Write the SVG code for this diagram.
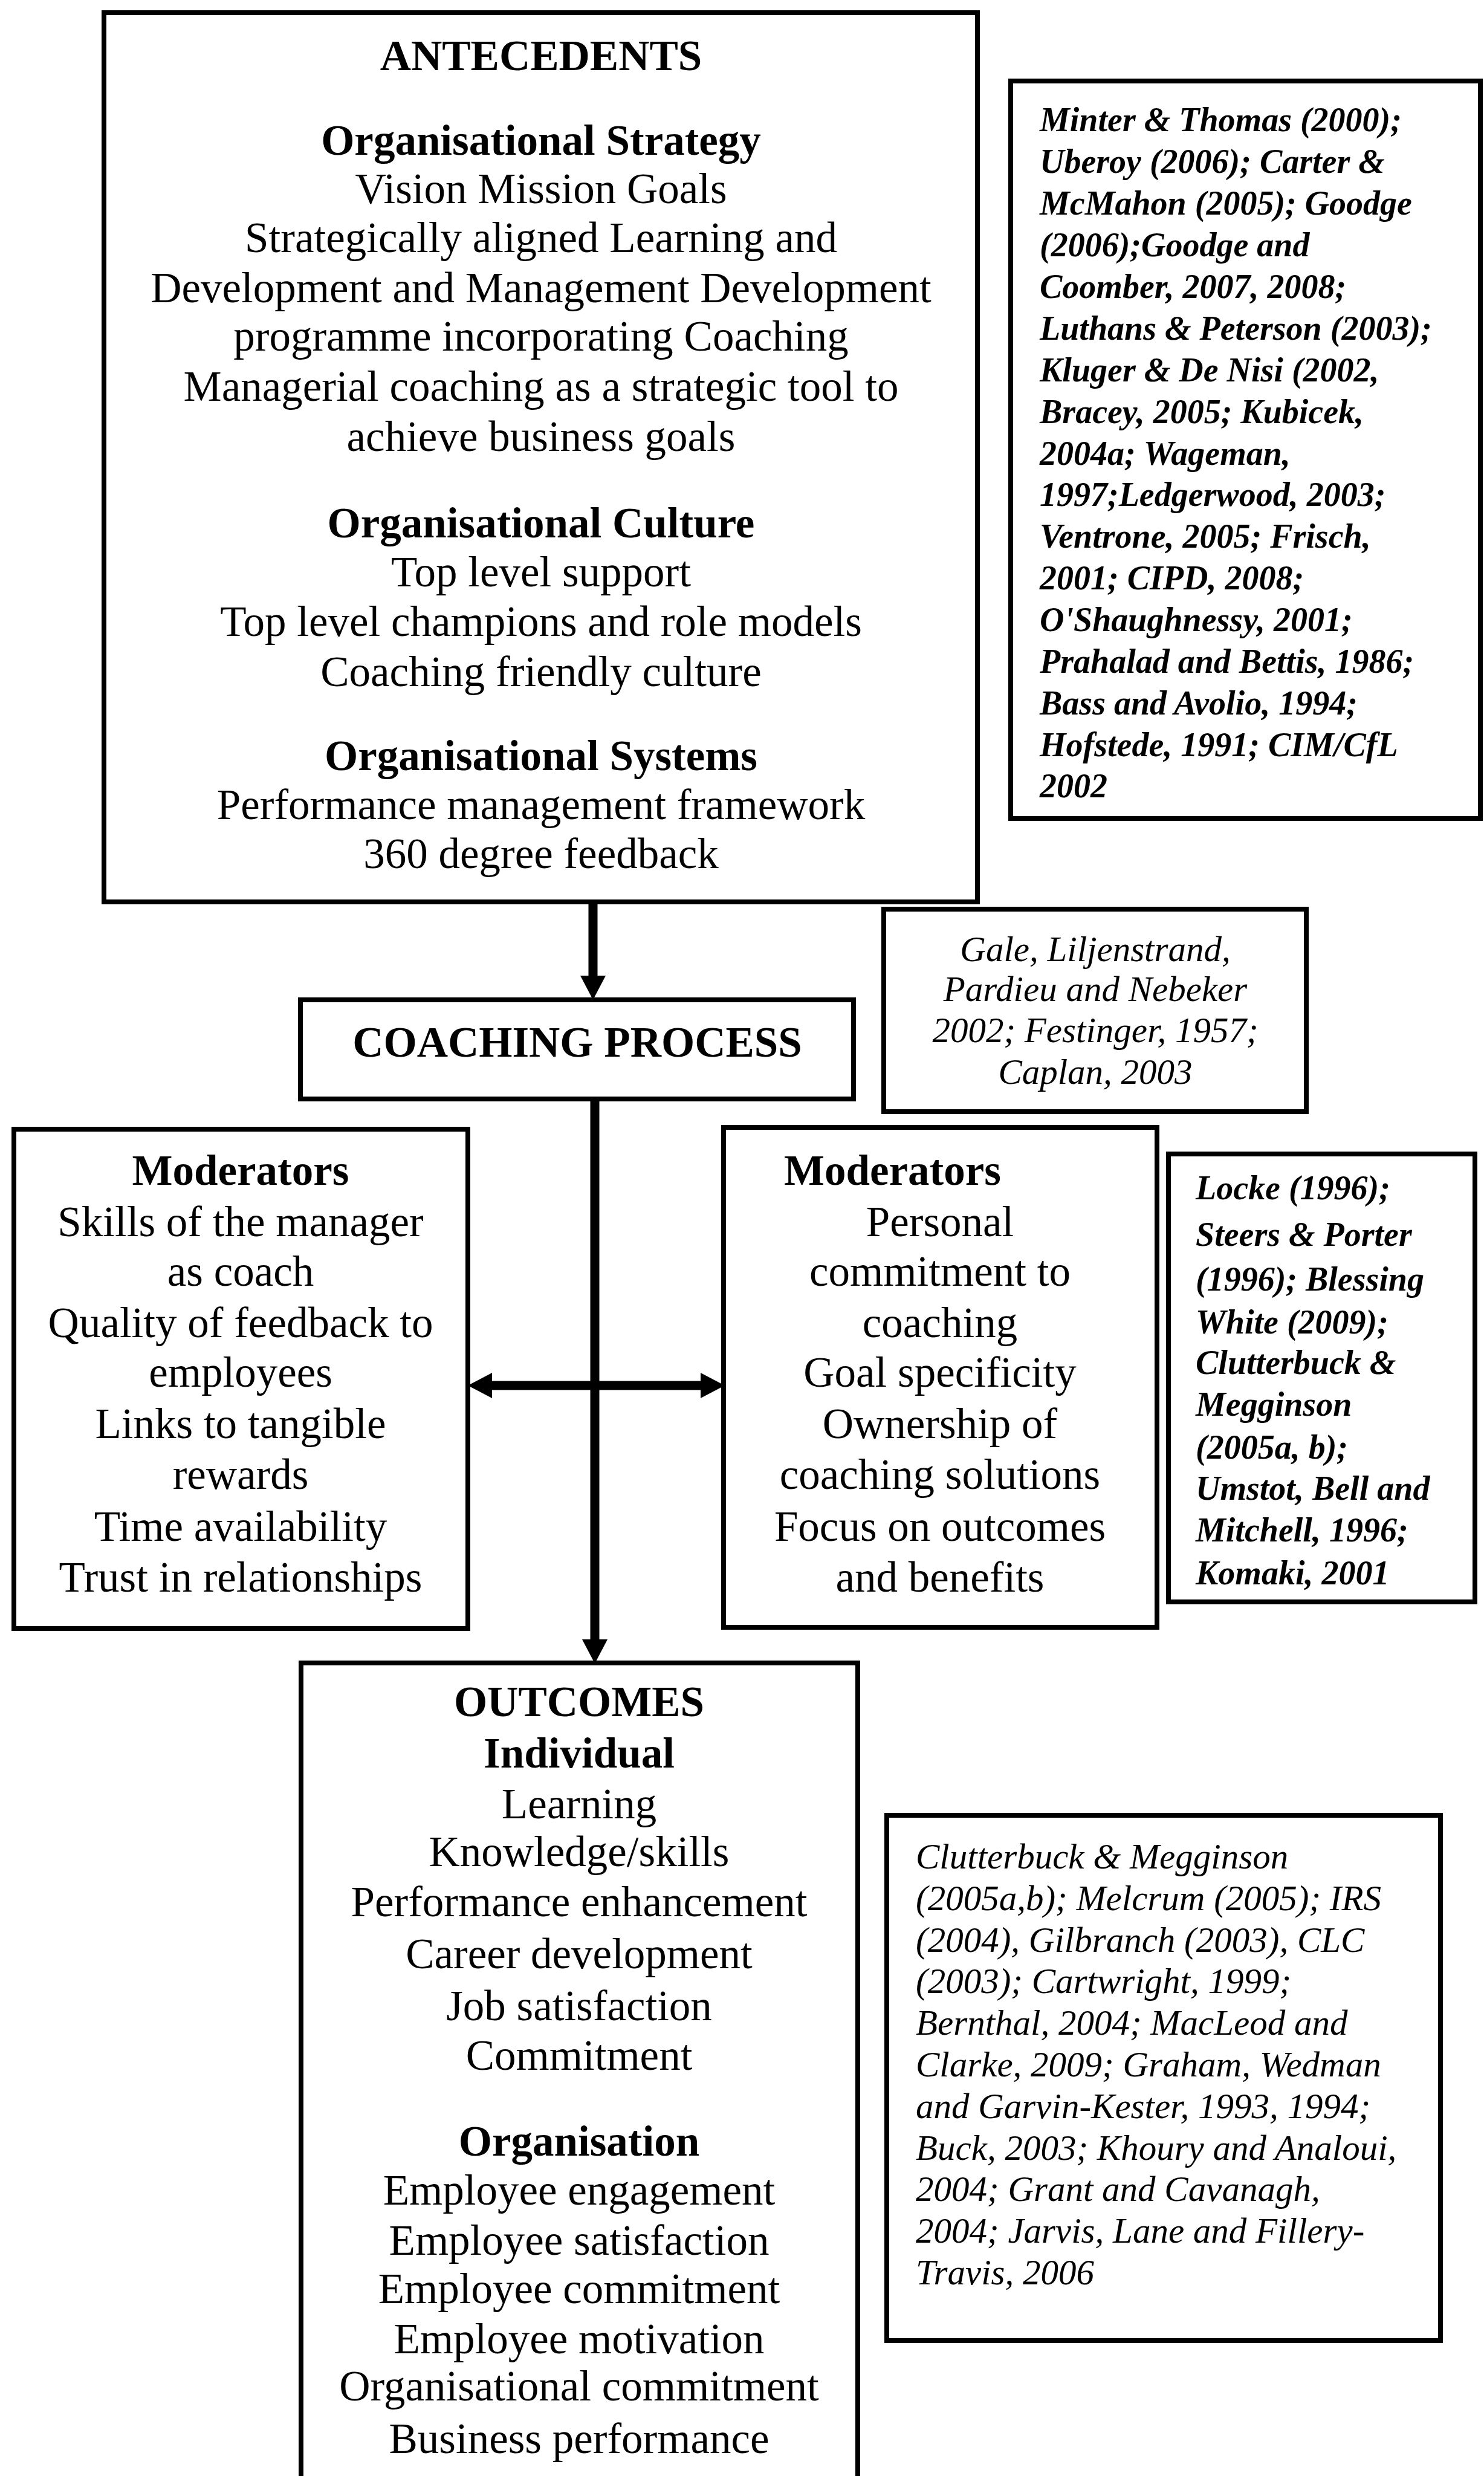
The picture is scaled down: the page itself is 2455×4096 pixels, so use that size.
<svg xmlns="http://www.w3.org/2000/svg" width="2455" height="4096" viewBox="0 0 2455 4096">
<style>
.box{fill:none;stroke:#000;stroke-width:8}
.con{fill:none;stroke:#000;stroke-width:15}
.t{font-family:"Liberation Serif","Times New Roman",serif;font-size:71px;fill:#000}
.c{text-anchor:middle}
.b{font-weight:bold}
.ci{font-family:"Liberation Serif","Times New Roman",serif;font-style:italic;font-size:59px;fill:#000}
.cb{font-family:"Liberation Serif","Times New Roman",serif;font-style:italic;font-weight:bold;font-size:56px;fill:#000}
</style>
<defs>
<marker id="ah" markerUnits="userSpaceOnUse" markerWidth="40" markerHeight="42" viewBox="0 0 40 42" refX="0" refY="21" orient="auto-start-reverse">
<path d="M0,0 L40,21 L0,42 z" fill="#000"/>
</marker>
</defs>
<rect width="2455" height="4096" fill="#fff"/>

<g id="connectors">
<line class="con" x1="981" y1="1492" x2="981" y2="1614" marker-end="url(#ah)"/>
<line class="con" x1="984" y1="1818" x2="984" y2="2712" marker-end="url(#ah)"/>
<line class="con" x1="814" y1="2292" x2="1159" y2="2292" marker-start="url(#ah)" marker-end="url(#ah)"/>
</g>

<g id="antecedents">
<rect class="box" x="172" y="21" width="1445" height="1471"/>
<text class="t c b" x="895" y="116">ANTECEDENTS</text>
<text class="t c b" x="895" y="256">Organisational Strategy</text>
<text class="t c" x="895" y="336">Vision Mission Goals</text>
<text class="t c" x="895" y="417">Strategically aligned Learning and</text>
<text class="t c" x="895" y="500">Development and Management Development</text>
<text class="t c" x="895" y="580">programme incorporating Coaching</text>
<text class="t c" x="895" y="663">Managerial coaching as a strategic tool to</text>
<text class="t c" x="895" y="746">achieve business goals</text>
<text class="t c b" x="895" y="889">Organisational Culture</text>
<text class="t c" x="895" y="970">Top level support</text>
<text class="t c" x="895" y="1052">Top level champions and role models</text>
<text class="t c" x="895" y="1135">Coaching friendly culture</text>
<text class="t c b" x="895" y="1274">Organisational Systems</text>
<text class="t c" x="895" y="1355">Performance management framework</text>
<text class="t c" x="895" y="1436">360 degree feedback</text>
</g>

<g id="ref-antecedents">
<rect class="box" x="1672" y="134" width="777" height="1220"/>
<text class="cb" x="1720" y="217">Minter &amp; Thomas (2000);</text>
<text class="cb" x="1720" y="286">Uberoy (2006); Carter &amp;</text>
<text class="cb" x="1720" y="355">McMahon (2005); Goodge</text>
<text class="cb" x="1720" y="424">(2006);Goodge and</text>
<text class="cb" x="1720" y="493">Coomber, 2007, 2008;</text>
<text class="cb" x="1720" y="562">Luthans &amp; Peterson (2003);</text>
<text class="cb" x="1720" y="631">Kluger &amp; De Nisi (2002,</text>
<text class="cb" x="1720" y="700">Bracey, 2005; Kubicek,</text>
<text class="cb" x="1720" y="769">2004a; Wageman,</text>
<text class="cb" x="1720" y="837">1997;Ledgerwood, 2003;</text>
<text class="cb" x="1720" y="906">Ventrone, 2005; Frisch,</text>
<text class="cb" x="1720" y="975">2001; CIPD, 2008;</text>
<text class="cb" x="1720" y="1044">O'Shaughnessy, 2001;</text>
<text class="cb" x="1720" y="1113">Prahalad and Bettis, 1986;</text>
<text class="cb" x="1720" y="1182">Bass and Avolio, 1994;</text>
<text class="cb" x="1720" y="1251">Hofstede, 1991; CIM/CfL</text>
<text class="cb" x="1720" y="1319">2002</text>
</g>

<g id="coaching-process">
<rect class="box" x="497" y="1654" width="915" height="164"/>
<text class="t c b" x="955" y="1748">COACHING PROCESS</text>
</g>

<g id="ref-coaching">
<rect class="box" x="1462" y="1504" width="699" height="335"/>
<text class="ci c" x="1812" y="1590">Gale, Liljenstrand,</text>
<text class="ci c" x="1812" y="1656">Pardieu and Nebeker</text>
<text class="ci c" x="1812" y="1724">2002; Festinger, 1957;</text>
<text class="ci c" x="1812" y="1793">Caplan, 2003</text>
</g>

<g id="moderators-left">
<rect class="box" x="23" y="1868" width="751" height="826"/>
<text class="t c b" x="398" y="1960">Moderators</text>
<text class="t c" x="398" y="2045">Skills of the manager</text>
<text class="t c" x="398" y="2127">as coach</text>
<text class="t c" x="398" y="2212">Quality of feedback to</text>
<text class="t c" x="398" y="2294">employees</text>
<text class="t c" x="398" y="2379">Links to tangible</text>
<text class="t c" x="398" y="2463">rewards</text>
<text class="t c" x="398" y="2549">Time availability</text>
<text class="t c" x="398" y="2633">Trust in relationships</text>
</g>

<g id="moderators-right">
<rect class="box" x="1197" y="1865" width="717" height="827"/>
<text class="t b" x="1297" y="1960">Moderators</text>
<text class="t c" x="1555" y="2045">Personal</text>
<text class="t c" x="1555" y="2127">commitment to</text>
<text class="t c" x="1555" y="2212">coaching</text>
<text class="t c" x="1555" y="2294">Goal specificity</text>
<text class="t c" x="1555" y="2379">Ownership of</text>
<text class="t c" x="1555" y="2463">coaching solutions</text>
<text class="t c" x="1555" y="2549">Focus on outcomes</text>
<text class="t c" x="1555" y="2633">and benefits</text>
</g>

<g id="ref-moderators">
<rect class="box" x="1933" y="1909" width="507" height="741"/>
<text class="cb" x="1978" y="1984">Locke (1996);</text>
<text class="cb" x="1978" y="2061">Steers &amp; Porter</text>
<text class="cb" x="1978" y="2135">(1996); Blessing</text>
<text class="cb" x="1978" y="2206">White (2009);</text>
<text class="cb" x="1978" y="2273">Clutterbuck &amp;</text>
<text class="cb" x="1978" y="2342">Megginson</text>
<text class="cb" x="1978" y="2413">(2005a, b);</text>
<text class="cb" x="1978" y="2481">Umstot, Bell and</text>
<text class="cb" x="1978" y="2550">Mitchell, 1996;</text>
<text class="cb" x="1978" y="2621">Komaki, 2001</text>
</g>

<g id="outcomes">
<path class="box" d="M498,4120 V2751 H1419 V4120"/>
<text class="t c b" x="958" y="2839">OUTCOMES</text>
<text class="t c b" x="958" y="2924">Individual</text>
<text class="t c" x="958" y="3008">Learning</text>
<text class="t c" x="958" y="3087">Knowledge/skills</text>
<text class="t c" x="958" y="3170">Performance enhancement</text>
<text class="t c" x="958" y="3256">Career development</text>
<text class="t c" x="958" y="3342">Job satisfaction</text>
<text class="t c" x="958" y="3424">Commitment</text>
<text class="t c b" x="958" y="3566">Organisation</text>
<text class="t c" x="958" y="3647">Employee engagement</text>
<text class="t c" x="958" y="3730">Employee satisfaction</text>
<text class="t c" x="958" y="3810">Employee commitment</text>
<text class="t c" x="958" y="3893">Employee motivation</text>
<text class="t c" x="958" y="3971">Organisational commitment</text>
<text class="t c" x="958" y="4058">Business performance</text>
</g>

<g id="ref-outcomes">
<rect class="box" x="1467" y="3003" width="916" height="869"/>
<text class="ci" x="1515" y="3091">Clutterbuck &amp; Megginson</text>
<text class="ci" x="1515" y="3160">(2005a,b); Melcrum (2005); IRS</text>
<text class="ci" x="1515" y="3229">(2004), Gilbranch (2003), CLC</text>
<text class="ci" x="1515" y="3297">(2003);  Cartwright, 1999;</text>
<text class="ci" x="1515" y="3366">Bernthal, 2004; MacLeod and</text>
<text class="ci" x="1515" y="3435">Clarke, 2009; Graham, Wedman</text>
<text class="ci" x="1515" y="3504">and Garvin-Kester, 1993, 1994;</text>
<text class="ci" x="1515" y="3573">Buck, 2003; Khoury and Analoui,</text>
<text class="ci" x="1515" y="3641">2004; Grant and Cavanagh,</text>
<text class="ci" x="1515" y="3710">2004; Jarvis, Lane and Fillery-</text>
<text class="ci" x="1515" y="3779">Travis, 2006</text>
</g>
</svg>
